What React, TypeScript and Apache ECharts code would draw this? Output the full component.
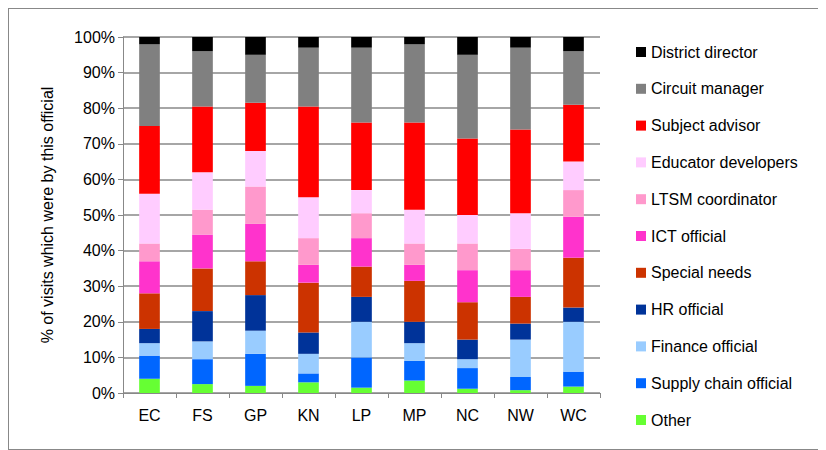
import React from 'react';
import * as echarts from 'echarts';

const categories = ['EC', 'FS', 'GP', 'KN', 'LP', 'MP', 'NC', 'NW', 'WC'];
const seriesNames = [
  'Other', 'Supply chain official', 'Finance official', 'HR official', 'Special needs',
  'ICT official', 'LTSM coordinator', 'Educator developers', 'Subject advisor',
  'Circuit manager', 'District director',
];
const seriesColors = [
  '#66ff33', '#0066ff', '#99ccff', '#003399', '#cc3300',
  '#ff33cc', '#ff99cc', '#ffccff', '#ff0000', '#808080', '#000000',
];
const other = [4, 2.5, 2, 3, 1.5, 3.5, 1.2, 0.8, 1.8];
const supplyChain = [6.5, 7, 9, 2.5, 8.5, 5.5, 5.8, 3.7, 4.2];
const finance = [3.5, 5, 6.5, 5.5, 10, 5, 2.5, 10.5, 14];
const hr = [4, 8.5, 10, 6, 7, 6, 5.5, 4.5, 4];
const specialNeeds = [10, 12, 9.5, 14, 8.5, 11.5, 10.5, 7.5, 14];
const ict = [9, 9.5, 10.5, 5, 8, 4.5, 9, 7.5, 11.5];
const ltsm = [5, 7, 10.5, 7.5, 7, 6, 7.5, 6, 7.5];
const educator = [14, 10.5, 10, 11.5, 6.5, 9.5, 8, 10, 8];
const subject = [19, 18.5, 13.5, 25.5, 19, 24.5, 21.5, 23.5, 16];
const circuit = [23, 15.5, 13.5, 16.5, 21, 22, 23.5, 23, 15];
const director = [2, 4, 5, 3, 3, 2, 5, 3, 4];
const seriesData = [other, supplyChain, finance, hr, specialNeeds, ict, ltsm, educator, subject, circuit, director];

export default function App() {
  const ref = React.useRef<HTMLDivElement>(null);

  React.useEffect(() => {
    if (!ref.current) return;
    const chart = echarts.init(ref.current, null, { renderer: 'svg' });
    const font = 'Liberation Sans, Arial, sans-serif';
    chart.setOption({
      animation: false,
      textStyle: { fontFamily: font },
      grid: { left: 114, right: 225, top: 28, bottom: 56 },
      legend: {
        orient: 'vertical',
        left: 622,
        top: 30,
        itemGap: 20.8,
        itemWidth: 10,
        itemHeight: 10,
        icon: 'rect',
        textStyle: { fontSize: 16, color: '#000', fontFamily: font },
        data: [...seriesNames].reverse(),
      },
      xAxis: {
        type: 'category',
        data: categories,
        axisLine: { lineStyle: { color: '#888' } },
        axisTick: { show: true, length: 5, lineStyle: { color: '#888' } },
        axisLabel: { fontSize: 16, color: '#000', margin: 14 },
      },
      yAxis: {
        type: 'value',
        min: 0,
        max: 100,
        interval: 10,
        name: '% of visits which were by this official',
        nameLocation: 'middle',
        nameGap: 68,
        nameTextStyle: { fontSize: 16, color: '#000' },
        axisLine: { show: true, lineStyle: { color: '#888' } },
        axisTick: { show: true, length: 5, lineStyle: { color: '#888' } },
        axisLabel: { fontSize: 16, color: '#000', formatter: '{value}%' },
        splitLine: { lineStyle: { color: '#888', width: 1.5 } },
      },
      series: seriesNames.map((name, i) => ({
        name,
        type: 'bar',
        stack: 'total',
        barWidth: '39%',
        itemStyle: { color: seriesColors[i] },
        data: seriesData[i],
      })),
    });
    return () => chart.dispose();
  }, []);

  return (
    <div style={{ width: 818, height: 442, border: '1px solid #888', boxSizing: 'border-box' }}>
      <div ref={ref} style={{ width: '100%', height: '100%' }} />
    </div>
  );
}
